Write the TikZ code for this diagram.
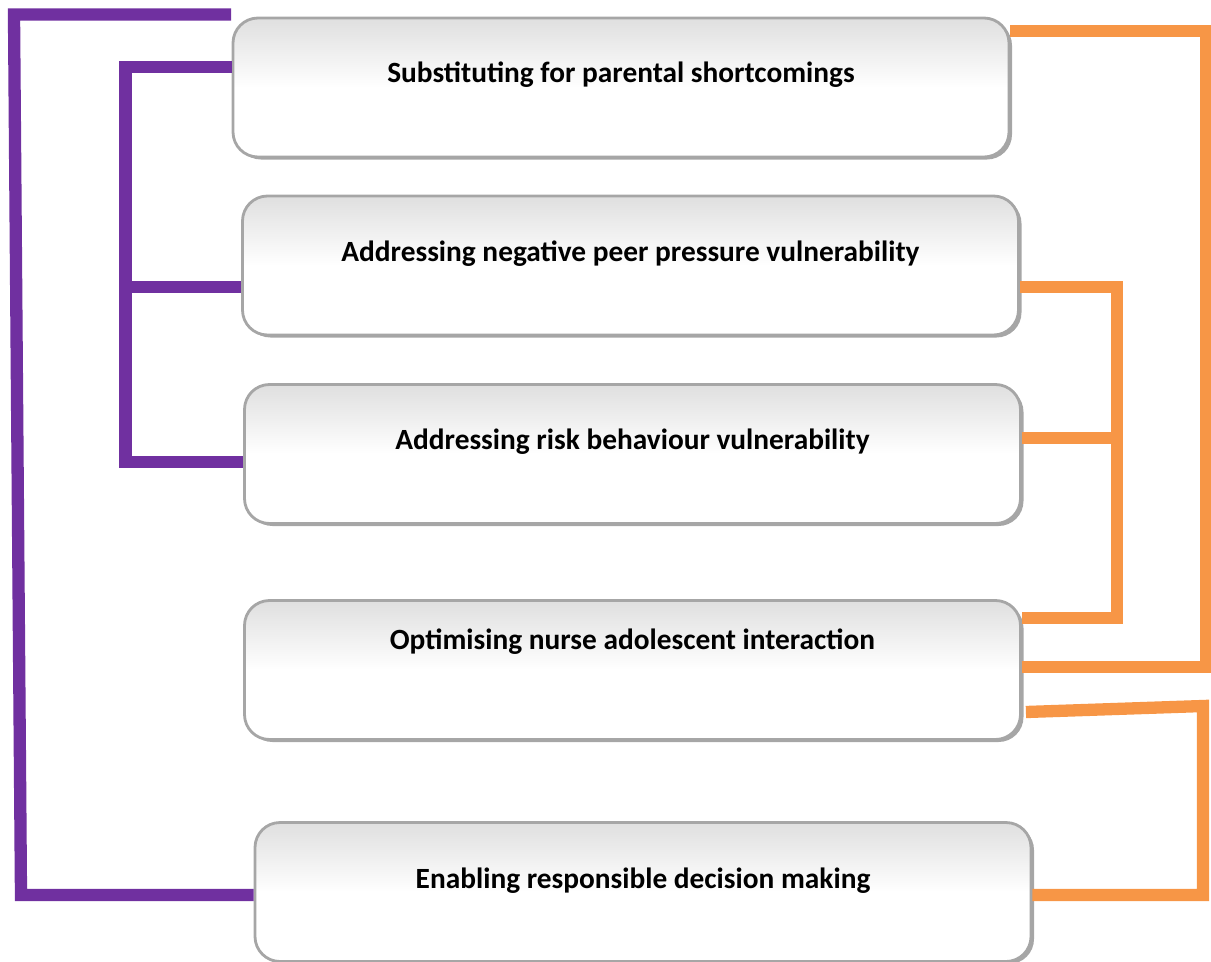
\documentclass[tikz,border=0pt]{standalone}
\usepackage{fontspec}
\setmainfont{Carlito}
\usepackage{xcolor}
\usetikzlibrary{shadows}
\definecolor{BoxPurple}{HTML}{7030A0}
\definecolor{BoxOrange}{HTML}{F79646}

\tikzset{
    themebox/.style={rounded corners=0.5cm, minimum width=15.52cm, minimum height=2.78cm,
        draw=gray!70, line width=1.6pt, top color=gray!25, bottom color=white, middle color=white,
        drop shadow={opacity=0.7, shadow xshift=0.06cm, shadow yshift=-0.05cm}},
    themetext/.style={font=\bfseries\fontsize{16.7}{20}\selectfont},
    purpleline/.style={line width=7pt, BoxPurple},
    orangeline/.style={line width=7pt, BoxOrange}
}

\begin{document}
\begin{tikzpicture}
            \useasboundingbox (0, 0) rectangle (24.22, -19.22);

            \node[themebox] (b1) at (12.42, -1.75) {};
            \node[themebox] (b2) at (12.61, -5.31) {};
            \node[themebox] (b3) at (12.65, -9.08) {};
            \node[themebox] (b4) at (12.65, -13.4) {};
            \node[themebox] (b5) at (12.86, -17.84) {};

            \node[themetext] (t1) at ([yshift=-1.16cm]b1.north) {Substituting for parental shortcomings};
            \node[themetext] (t2) at ([yshift=-1.18cm]b2.north) {Addressing negative peer pressure vulnerability};
            \node[themetext] (t3) at ([yshift=-1.18cm]b3.north) {Addressing risk behaviour vulnerability};
            \node[themetext] (t4) at ([yshift=-0.86cm]b4.north) {Optimising nurse adolescent interaction};
            \node[themetext] (t5) at ([yshift=-1.2cm]b5.north) {Enabling responsible decision making};

            % left brackets
            \coordinate (ptop) at (4.62, -0.29);
            \draw[purpleline] (ptop) -- (0.28, -0.29) -- (0.42, -17.9) -- ([yshift=-0.06cm]b5.west);
            \draw[purpleline] ([yshift=0.41cm]b1.west) -- ++(-2.12, 0) |- ([yshift=-0.16cm]b3.west);
            \draw[purpleline] ([yshift=-0.43cm]b2.west) -- ++(-2.34, 0);

            % right brackets
            \draw[orangeline] ([yshift=1.13cm]b1.east) -- ++(3.92, 0) |- ([yshift=0.06cm]b4.east);
            \draw[orangeline] ([yshift=-0.43cm]b2.east) -- ++(1.94, 0) |- ([yshift=1.04cm]b4.east);
            \draw[orangeline] ([yshift=0.32cm]b3.east) -- ++(1.92, 0);
            \draw[orangeline] ([xshift=0.08cm,yshift=-0.84cm]b4.east) -- (24.06, -14.12) |- ([yshift=-0.06cm]b5.east);
        \end{tikzpicture}
\end{document}
